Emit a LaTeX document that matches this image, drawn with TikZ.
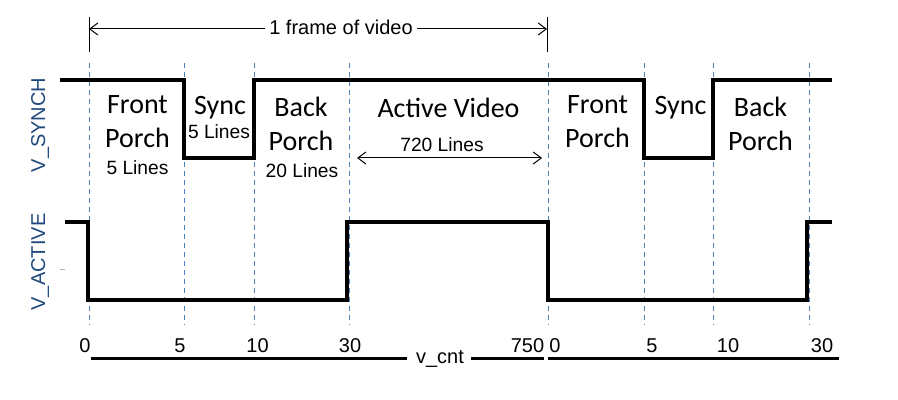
\documentclass[tikz,border=0pt]{standalone}
\usepackage{fontspec}
\setmainfont{Liberation Sans}
\newfontfamily\calibri{Carlito}
\usetikzlibrary{arrows.meta}
\usetikzlibrary{positioning}
\definecolor{axisblue}{RGB}{31,73,125}
\definecolor{gridblue}{RGB}{79,129,189}
\tikzstyle{signal}=[line width=1.7pt,line join=miter]
\tikzstyle{gridline}=[gridblue,line width=0.5pt,dash pattern=on 2.5pt off 2pt]
\tikzstyle{span}=[line width=0.5pt,{Straight Barb[length=4pt,width=6pt]}-{Straight Barb[length=4pt,width=6pt]}]
\tikzstyle{phase}=[font=\calibri\fontsize{14}{17}\selectfont,align=center]
\tikzstyle{lines}=[font=\fontsize{9.6}{11}\selectfont,anchor=base,inner sep=0pt]
\tikzstyle{count}=[font=\fontsize{10}{12}\selectfont,anchor=base,inner sep=0pt]
\tikzstyle{axis}=[font=\fontsize{10}{12}\selectfont,text=axisblue,rotate=90,anchor=base,inner sep=0pt]

\begin{document}
\begin{tikzpicture}[x=0.5pt,y=-0.5pt]
\useasboundingbox (0,0) rectangle (898,400);

\foreach \x in {89,184,254,349,548,644,713,809}
  \draw[gridline] (\x,63) -- (\x,325);

\draw[signal] (60,80) -- (184,80) -- (184,158) -- (254,158) -- (254,80) -- (644,80)
  -- (644,158) -- (713,158) -- (713,80) -- (832,80);
\draw[signal] (65,222) -- (88,222) -- (88,300) -- (347,300) -- (347,222) -- (548,222)
  -- (548,300) -- (807,300) -- (807,222) -- (832,222);
\draw[gray!60,line width=0.5pt] (60,270) -- (65,270);

\node[axis] (vsync) at (45,125) {V\_SYNCH};
\node[axis] (vact) at (45,262) {V\_ACTIVE};

\coordinate (ftl) at (89,17);
\coordinate (fbl) at (89,52);
\coordinate (ftr) at (547,17);
\coordinate (fbr) at (547,52);
\coordinate (fl) at (89,29);
\coordinate (fr) at (547,29);
\draw[line width=0.5pt] (ftl) -- (fbl);
\draw[line width=0.5pt] (ftr) -- (fbr);
\draw[span] (fl) -- (fr);
\node[count,fill=white,inner sep=2pt] (frame) at (341,35) {1 frame of video};

\node[phase] (fp1) at (137.5,122) {Front\\Porch};
\node[lines] (fpl) at (137.5,175) {5 Lines};
\node[phase,anchor=base] (sy1) at (220,115) {Sync};
\node[lines] (syl) at (219,139) {5 Lines};
\node[phase] (bp1) at (301,124) {Back\\Porch};
\node[lines] (bpl) at (302,178) {20 Lines};
\node[phase,anchor=base] (av) at (448.5,118) {Active Video};
\node[lines] (avl) at (442,152) {720 Lines};
\coordinate (avw) at (357,158);
\coordinate (ave) at (542,158);
\draw[span] (avw) -- (ave);

\node[phase] (fp2) at (597.5,121.5) {Front\\Porch};
\node[phase,anchor=base] (sy2) at (680.5,115) {Sync};
\node[phase] (bp2) at (760.5,124) {Back\\Porch};

\node[count] (c0) at (85,352) {0};
\node[count] (c5) at (180,352) {5};
\node[count] (c10) at (257.5,352) {10};
\node[count] (c30) at (350,352) {30};
\node[count] (c750) at (527.5,352) {750};
\node[count] (d0) at (555,352) {0};
\node[count] (d5) at (652,352) {5};
\node[count] (d10) at (728,352) {10};
\node[count] (d30) at (822,352) {30};
\node[count] (vcnt) at (440,363) {v\_cnt};

\draw[line width=1.5pt] (91,358) -- (407,358);
\draw[line width=1.5pt] (471,358) -- (544,358);
\draw[line width=1.5pt] (548,358) -- (839,358);
\end{tikzpicture}
\end{document}
